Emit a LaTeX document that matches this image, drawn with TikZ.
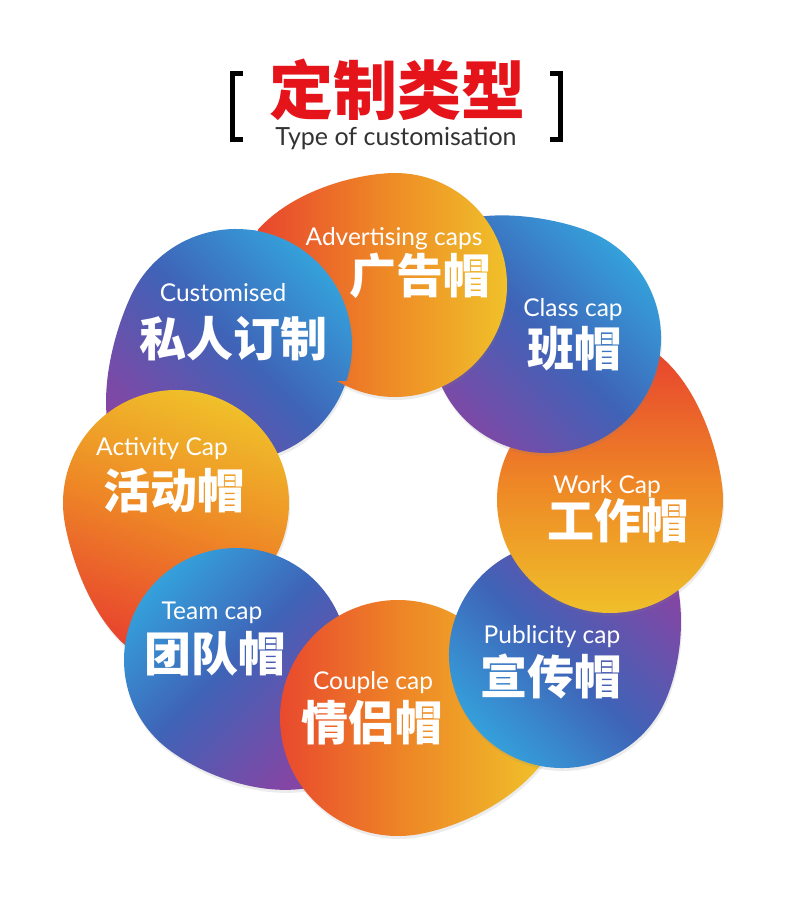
\documentclass[tikz,border=0pt]{standalone}
\usepackage{fontspec}
\setmainfont{Lato}
\newfontfamily\cjk{Noto Sans CJK SC}
\usetikzlibrary{shadows}
\definecolor{warmred}{HTML}{E8452E}
\definecolor{warmorange}{HTML}{EE8826}
\definecolor{warmyellow}{HTML}{F0C22A}
\definecolor{coolpurple}{HTML}{8446A4}
\definecolor{coolblue}{HTML}{3F63B7}
\definecolor{coolcyan}{HTML}{33A9E0}
\definecolor{titlered}{HTML}{E5141B}
\definecolor{subgray}{HTML}{333333}
% blob: centre x, centre y, radius, tip angle, tip distance factor
\newcommand{\blobpath}[5]{%
    ([shift={(#4:#5*#3)}]#1,#2)
    .. controls ([shift={(#4:#5*#3)},shift={(#4+110:0.45*#3)}]#1,#2)
    and ([shift={(#4+65:#3)},shift={(#4-25:0.35*#3)}]#1,#2)
    .. ([shift={(#4+65:#3)}]#1,#2)
    arc[start angle=#4+65, end angle=#4+295, radius=#3]
    .. controls ([shift={(#4-65:#3)},shift={(#4+25:0.35*#3)}]#1,#2)
    and ([shift={(#4:#5*#3)},shift={(#4-110:0.45*#3)}]#1,#2)
    .. ([shift={(#4:#5*#3)}]#1,#2) -- cycle}
\tikzset{
    warm/.style={left color=warmred, right color=warmyellow, middle color=warmorange},
    cool/.style={left color=coolpurple, right color=coolcyan, middle color=coolblue},
    blobshadow/.style={drop shadow={opacity=.15, shadow xshift=1pt, shadow yshift=-3pt}},
    entext/.style={text=white, anchor=base, font=\fontsize{24.5}{24.5}\selectfont},
    cntext/.style={text=white, font=\cjk\bfseries\fontsize{47}{47}\selectfont},
    bracket/.style={line width=5pt, line join=miter}
}

\begin{document}
\begin{tikzpicture}[x=1pt, y=-1pt]
    \fill[white] (0,0) rectangle (790,911);
    \useasboundingbox (0,0) rectangle (790,911);

    % title
    \node[font=\cjk\bfseries\fontsize{64}{64}\selectfont, text=titlered] (title) at (397,90) {定制类型};
    \node[font=\fontsize{25}{25}\selectfont, text=subgray, anchor=base] (subtitle) at (396,145) {Type of customisation};
    \draw[bracket] (243,73) -- (232.5,73) -- (232.5,139) -- (243,139);
    \draw[bracket] (550,73) -- (560.5,73) -- (560.5,139) -- (550,139);

    % ring of blobs
    \shade[cool, shading angle=135, blobshadow] \blobpath{236}{345}{116}{140}{1.38};
    \shade[warm, shading angle=160, blobshadow] \blobpath{176}{503}{113}{105}{1.38};
    \shade[cool, shading angle=225, blobshadow] \blobpath{236}{660}{112}{62}{1.3};
    \shade[warm, shading angle=90, blobshadow] \blobpath{398}{718}{118}{15}{1.3};
    \shade[cool, shading angle=315, blobshadow] \blobpath{562}{655}{113}{318}{1.28};
    \shade[warm, shading angle=0, blobshadow] \blobpath{610}{500}{113}{288}{1.36};
    \shade[cool, shading angle=135, blobshadow] \blobpath{546}{338}{115}{225}{1.35};
    \shade[warm, shading angle=90, blobshadow] \blobpath{395}{285}{112}{202}{1.32};
    \begin{scope}
        \clip (250,150) rectangle (420,380);
        \shade[cool, shading angle=135, blobshadow] \blobpath{236}{345}{116}{140}{1.38};
    \end{scope}

    % labels
    \node[entext] (advEn) at (394,245) {Advertising caps};
    \node[cntext] (advCn) at (420,276) {广告帽};
    \node[entext] (cusEn) at (223,301) {Customised};
    \node[cntext] (cusCn) at (233,339) {私人订制};
    \node[entext] (claEn) at (573,316) {Class cap};
    \node[cntext] (claCn) at (574,349) {班帽};
    \node[entext] (actEn) at (162,455) {Activity Cap};
    \node[cntext] (actCn) at (174,491) {活动帽};
    \node[entext] (worEn) at (607,493) {Work Cap};
    \node[cntext] (worCn) at (618,521) {工作帽};
    \node[entext] (teaEn) at (212,619) {Team cap};
    \node[cntext] (teaCn) at (215,654) {团队帽};
    \node[entext] (pubEn) at (552,643) {Publicity cap};
    \node[cntext] (pubCn) at (551,677) {宣传帽};
    \node[entext] (couEn) at (373,689) {Couple cap};
    \node[cntext] (couCn) at (372,723) {情侣帽};
\end{tikzpicture}
\end{document}
